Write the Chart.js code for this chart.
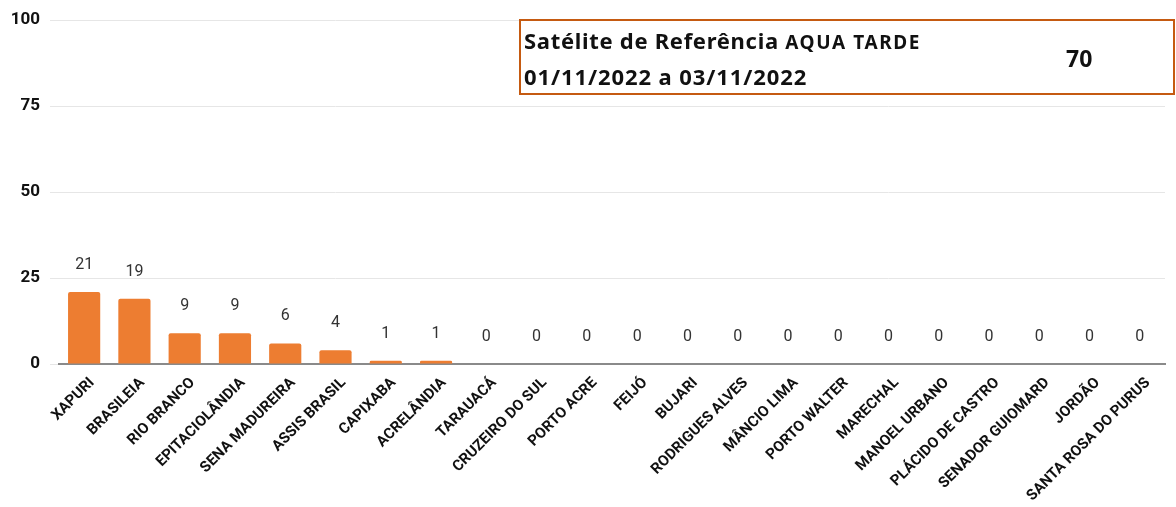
<!DOCTYPE html>
<html>
<head>
<meta charset="utf-8">
<script src="https://cdn.jsdelivr.net/npm/chart.js@4"></script>
<style>
  html, body { margin: 0; padding: 0; background: #fff; }
  #wrap { position: relative; width: 1176px; height: 507px; }
  #infoBox {
    position: absolute; left: 519px; top: 19px; width: 652px; height: 72px;
    border: 2px solid #C55A11; font-family: 'Noto Sans', sans-serif; font-weight: 700;
    color: #111; box-sizing: content-box;
  }
  #infoBox .l1 { position: absolute; left: 3px; top: 4px; font-size: 22px; letter-spacing: 0.7px; white-space: nowrap; line-height: 30px; }
  #infoBox .l1 small { font-size: 19px; letter-spacing: 1.6px; }
  #infoBox .l2 { position: absolute; left: 3px; top: 40px; font-size: 22px; letter-spacing: 0.9px; white-space: nowrap; line-height: 30px; }
  #infoBox .total { position: absolute; left: 545px; top: 22px; font-size: 23px; line-height: 30px; }
</style>
</head>
<body>
<div id="wrap">
  <canvas id="focosCanvas" width="1176" height="507"></canvas>
  <div id="infoBox">
    <div class="l1">Satélite de Referência <small>AQUA TARDE</small></div>
    <div class="l2">01/11/2022 a 03/11/2022</div>
    <div class="total" id="totalValue"></div>
  </div>
</div>
<script>
const municipios = [
  'XAPURI', 'BRASILEIA', 'RIO BRANCO', 'EPITACIOLÂNDIA', 'SENA MADUREIRA',
  'ASSIS BRASIL', 'CAPIXABA', 'ACRELÂNDIA', 'TARAUACÁ', 'CRUZEIRO DO SUL',
  'PORTO ACRE', 'FEIJÓ', 'BUJARI', 'RODRIGUES ALVES', 'MÂNCIO LIMA',
  'PORTO WALTER', 'MARECHAL', 'MANOEL URBANO', 'PLÁCIDO DE CASTRO',
  'SENADOR GUIOMARD', 'JORDÃO', 'SANTA ROSA DO PURUS'
];
const focos = [21, 19, 9, 9, 6, 4, 1, 1, 0, 0, 0, 0, 0, 0, 0, 0, 0, 0, 0, 0, 0, 0];
const yTicks = [0, 25, 50, 75, 100];
const totalFocos = 70;

document.getElementById('totalValue').textContent = totalFocos;

// draws the value over each bar (no datalabels plugin available)
const valueLabels = {
  id: 'valueLabels',
  afterDatasetsDraw(chart) {
    const { ctx } = chart;
    const meta = chart.getDatasetMeta(0);
    ctx.save();
    ctx.font = '16px Roboto';
    ctx.fillStyle = '#333';
    ctx.textAlign = 'center';
    ctx.textBaseline = 'middle';
    meta.data.forEach((bar, i) => {
      ctx.fillText(String(focos[i]), bar.x, bar.y - 27);
    });
    ctx.restore();
  },
};

const ctx = document.getElementById('focosCanvas').getContext('2d');

window.FocosChartRef = new Chart(ctx, {
  type: 'bar',
  data: {
    labels: municipios,
    datasets: [
      {
        data: focos,
        backgroundColor: '#ED7D31',
        borderRadius: 2,
        borderSkipped: 'bottom',
        categoryPercentage: 1,
        barPercentage: 0.64,
      },
    ],
  },
  options: {
    responsive: false,
    animation: false,
    layout: { padding: { top: 14, right: 11, left: 0, bottom: 0 } },
    plugins: {
      legend: { display: false },
      tooltip: { enabled: false },
    },
    scales: {
      x: {
        grid: { display: false },
        border: { display: true, color: '#8a8a8a', width: 2 },
        ticks: {
          autoSkip: false,
          maxRotation: 45,
          minRotation: 45,
          padding: 2,
          labelOffset: 8,
          color: '#111',
          font: { family: 'Roboto', size: 15, weight: 'bold' },
        },
      },
      y: {
        min: 0,
        max: 100,
        afterFit(scale) { scale.width = 59; },
        afterBuildTicks(scale) { scale.ticks = yTicks.map(v => ({ value: v })); },
        grid: { color: '#e6e6e6', tickLength: 9, tickColor: '#e6e6e6' },
        border: { display: false },
        ticks: {
          padding: 10,
          color: '#111',
          font: { family: 'Roboto', size: 17, weight: 'bold' },
        },
      },
    },
  },
  plugins: [valueLabels],
});
</script>
</body>
</html>
